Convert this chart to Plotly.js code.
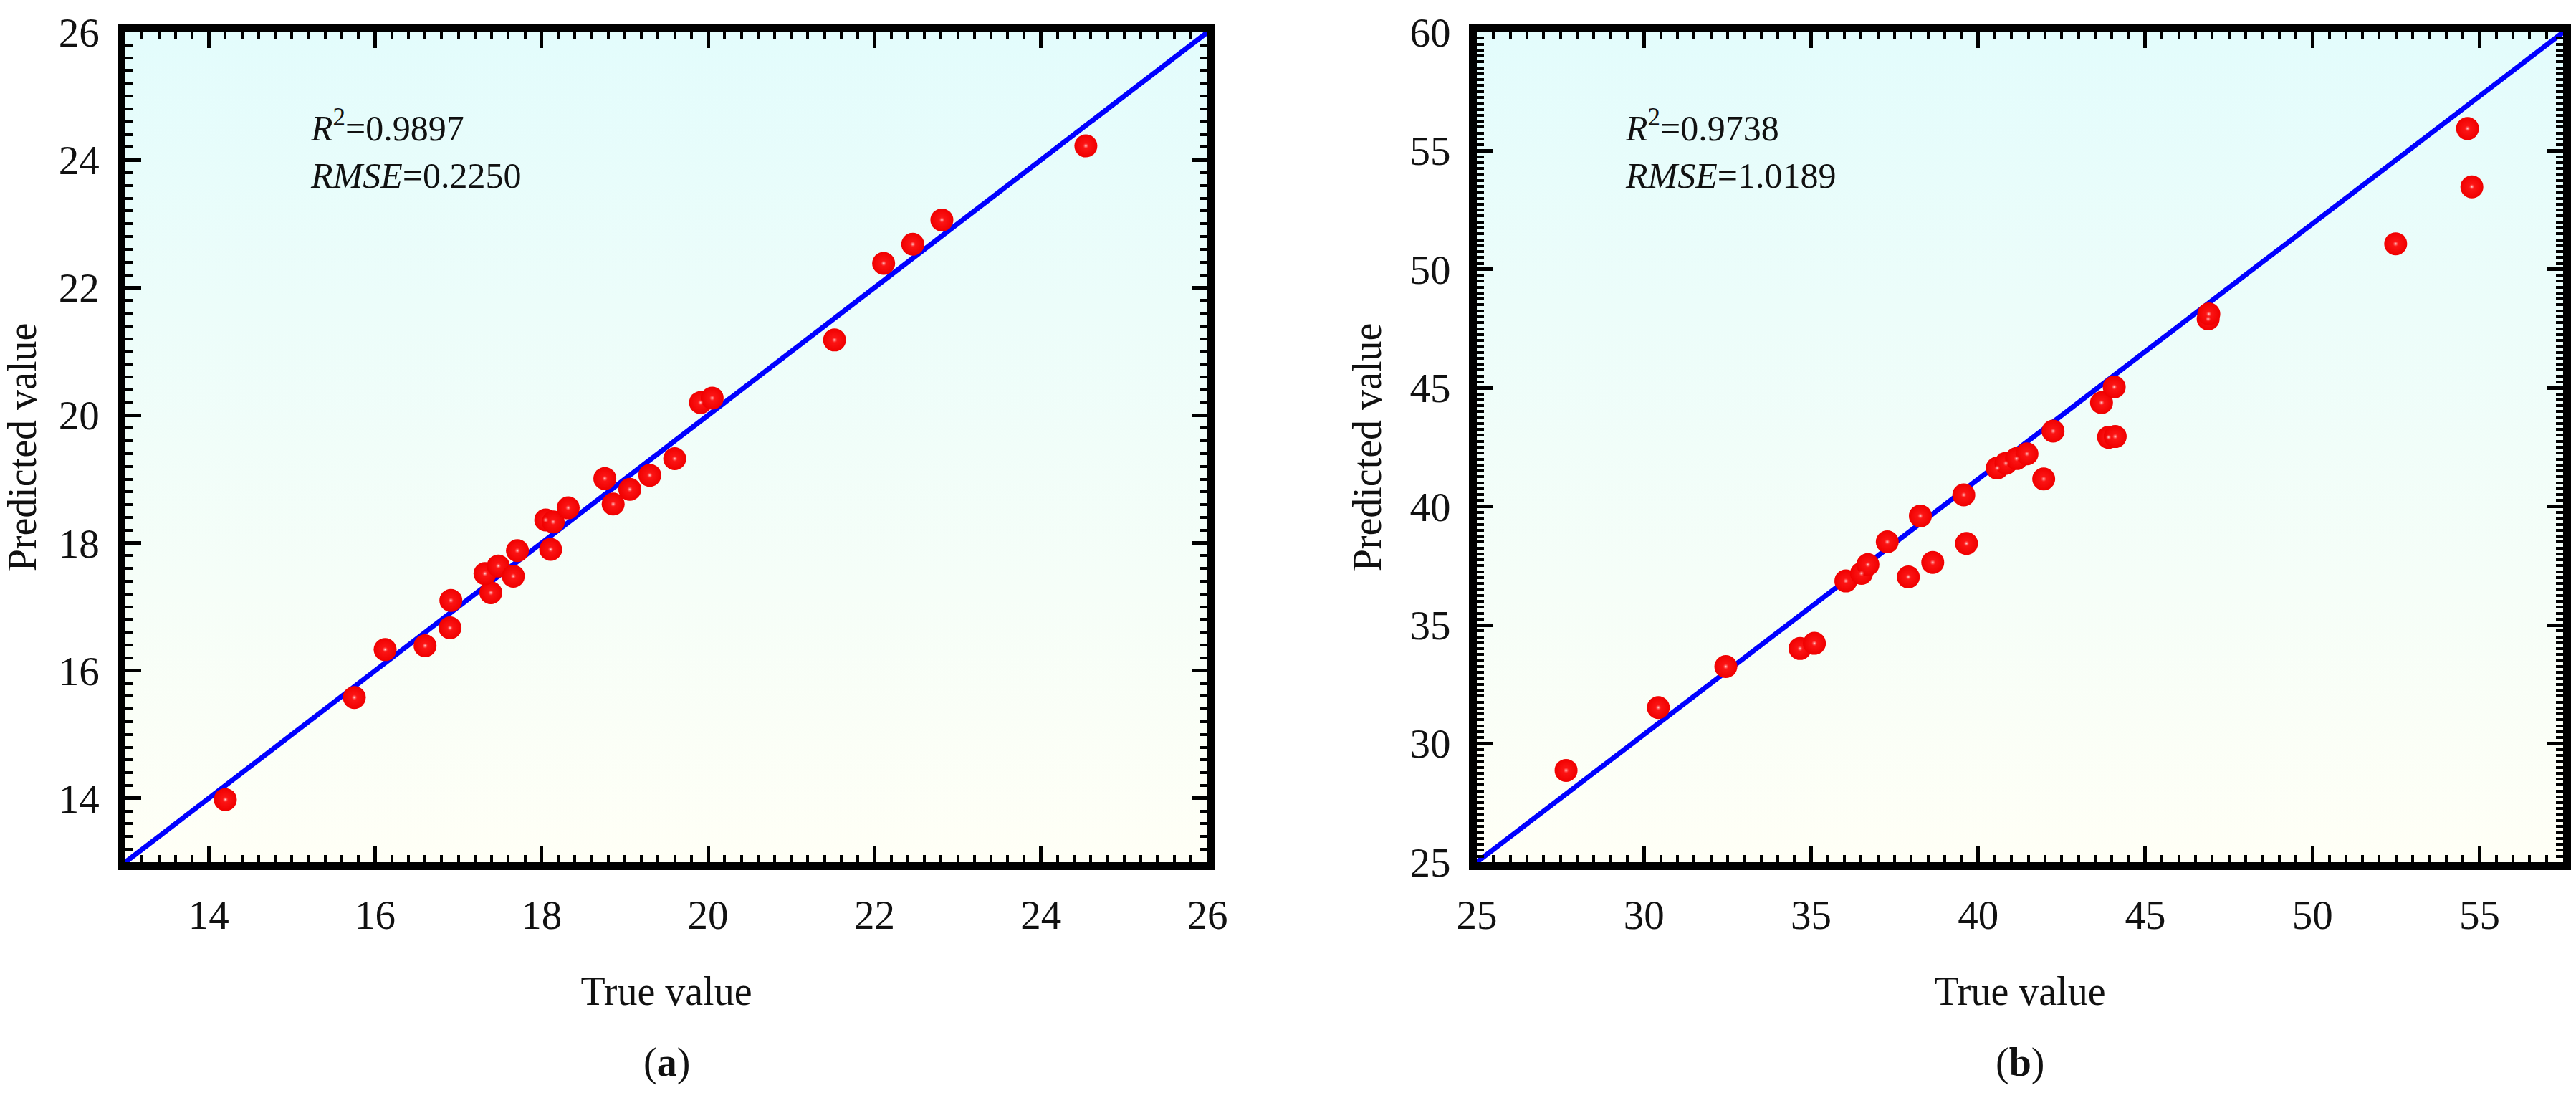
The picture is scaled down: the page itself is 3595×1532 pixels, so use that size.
<!DOCTYPE html>
<html>
<head>
<meta charset="utf-8">
<script src="https://cdn.plot.ly/plotly-3.0.1.min.js"></script>
<style>
  html, body { margin: 0; padding: 0; background: #fff; }
  #fig { width: 3595px; height: 1532px; }
</style>
</head>
<body>
<div id="fig"></div>
<script>
// panel (a): true vs predicted
var trueA = [14.20, 15.75, 16.12, 16.60, 16.90, 16.91, 17.39, 17.32, 17.48, 17.66,
             17.71, 18.11, 18.05, 18.14, 18.32, 18.86, 18.76, 19.06, 19.30, 19.60,
             19.91, 20.05, 21.52, 22.11, 22.46, 22.81, 24.54];
var predA = [13.98, 15.58, 16.33, 16.39, 16.67, 17.10, 17.22, 17.52, 17.64, 17.48,
             17.88, 17.90, 18.36, 18.33, 18.55, 18.61, 19.01, 18.84, 19.06, 19.32,
             20.20, 20.27, 21.18, 22.38, 22.68, 23.06, 24.22];
var fitA_x = [13, 26];
var fitA_y = [13, 26];
var statsA = {r2: '0.9897', rmse: '0.2250'};

// panel (b)
var trueB = [27.67, 30.43, 32.45, 34.67, 35.10, 36.04, 36.51, 36.70, 37.28, 37.91,
             38.27, 38.64, 39.57, 39.65, 40.57, 40.83, 41.15, 41.46, 41.96, 42.24,
             43.69, 44.07, 43.90, 44.10, 46.88, 46.90, 52.49, 54.64, 54.77];
var predB = [28.87, 31.52, 33.25, 34.01, 34.23, 36.86, 37.18, 37.55, 38.51, 37.03,
             39.60, 37.64, 40.49, 38.44, 41.62, 41.82, 42.02, 42.22, 41.16, 43.18,
             44.38, 45.04, 42.92, 42.95, 47.91, 48.12, 51.08, 55.94, 53.48];
var fitB_x = [25, 57.5];
var fitB_y = [25, 60];
var statsB = {r2: '0.9738', rmse: '1.0189'};

var FONT = 'Times New Roman, Liberation Serif, serif';

function bgTrace(xr, yr, xa, ya) {
  // soft vertical wash behind each panel
  return {
    x: [xr[0], xr[1], xr[1], xr[0], xr[0]],
    y: [yr[0], yr[0], yr[1], yr[1], yr[0]],
    xaxis: xa, yaxis: ya,
    type: 'scatter', mode: 'lines', fill: 'toself',
    line: {width: 0},
    fillgradient: {type: 'vertical',
                   colorscale: [[0, '#fffff6'], [1, '#e3fcfc']]},
    hoverinfo: 'skip', showlegend: false
  };
}

function fitTrace(x, y, xa, ya) {
  return {x: x, y: y, xaxis: xa, yaxis: ya, type: 'scatter', mode: 'lines',
          line: {color: '#0000ff', width: 7}, showlegend: false};
}

function ballTraces(x, y, xa, ya) {
  var base = {x: x, y: y, xaxis: xa, yaxis: ya, type: 'scatter', mode: 'markers',
              marker: {size: 32, color: '#f00000',
                       gradient: {type: 'radial', color: '#ff1a1a'},
                       line: {width: 0}},
              showlegend: false};
  var shine = {x: x, y: y, xaxis: xa, yaxis: ya, type: 'scatter', mode: 'markers',
               marker: {size: 8, color: 'rgba(255,80,80,0)',
                        gradient: {type: 'radial', color: 'rgba(255,255,255,0.85)'},
                        line: {width: 0}},
               hoverinfo: 'skip', showlegend: false};
  return [base, shine];
}

var rangeAx = [13, 26], rangeAy = [13, 26];
var rangeBx = [25, 57.5], rangeBy = [25, 60];

var data = [bgTrace(rangeAx, rangeAy, 'x', 'y'),
            bgTrace(rangeBx, rangeBy, 'x2', 'y2'),
            fitTrace(fitA_x, fitA_y, 'x', 'y'),
            fitTrace(fitB_x, fitB_y, 'x2', 'y2')]
  .concat(ballTraces(trueA, predA, 'x', 'y'))
  .concat(ballTraces(trueB, predB, 'x2', 'y2'));

function axis(range, dtick, minor, dom, titleText, standoff, anchor) {
  return {
    range: range, domain: dom, anchor: anchor,
    dtick: dtick, tick0: 0,
    showgrid: false, zeroline: false,
    showline: true, linecolor: '#000', linewidth: 11, mirror: 'allticks',
    ticks: 'inside', ticklen: 22, tickwidth: 5, tickcolor: '#000',
    minor: {dtick: minor, ticks: 'inside', ticklen: 10, tickwidth: 4, tickcolor: '#000'},
    tickfont: {family: FONT, size: 57, color: '#111'},
    ticklabelstandoff: 14,
    title: {text: titleText, font: {family: FONT, size: 56, color: '#111'}, standoff: standoff},
    fixedrange: true
  };
}

var domY = [0.2148, 0.9706];
var layout = {
  width: 3595, height: 1532,
  margin: {l: 0, r: 0, t: 0, b: 0},
  font: {family: FONT},
  paper_bgcolor: '#ffffff', plot_bgcolor: 'rgba(0,0,0,0)',
  showlegend: false,
  xaxis: axis(rangeAx, 2, 0.2, [0.0487, 0.4687], 'True value', 60, 'y'),
  yaxis: axis(rangeAy, 2, 0.2, domY, 'Predicted value', 26, 'x'),
  xaxis2: axis(rangeBx, 5, 0.5, [0.5733, 0.995], 'True value', 60, 'y2'),
  yaxis2: axis(rangeBy, 5, 0.25, domY, 'Predicted value', 26, 'x2'),
  annotations: [
    {xref: 'x', yref: 'y', x: 15.2, y: 24.54, xanchor: 'left', yanchor: 'middle', showarrow: false,
     text: '<i>R</i><sup>2</sup>=' + statsA.r2, font: {family: FONT, size: 50, color: '#111'}},
    {xref: 'x', yref: 'y', x: 15.2, y: 23.76, xanchor: 'left', yanchor: 'middle', showarrow: false,
     text: '<i>RMSE</i>=' + statsA.rmse, font: {family: FONT, size: 50, color: '#111'}},
    {xref: 'x2', yref: 'y2', x: 29.4, y: 56.07, xanchor: 'left', yanchor: 'middle', showarrow: false,
     text: '<i>R</i><sup>2</sup>=' + statsB.r2, font: {family: FONT, size: 50, color: '#111'}},
    {xref: 'x2', yref: 'y2', x: 29.4, y: 53.96, xanchor: 'left', yanchor: 'middle', showarrow: false,
     text: '<i>RMSE</i>=' + statsB.rmse, font: {family: FONT, size: 50, color: '#111'}},
    {xref: 'paper', yref: 'paper', x: 0.2587, y: 0.032, xanchor: 'center', yanchor: 'middle', showarrow: false,
     text: '(<b>a</b>)', font: {family: FONT, size: 56, color: '#111'}},
    {xref: 'paper', yref: 'paper', x: 0.7842, y: 0.032, xanchor: 'center', yanchor: 'middle', showarrow: false,
     text: '(<b>b</b>)', font: {family: FONT, size: 56, color: '#111'}}
  ]
};

Plotly.newPlot('fig', data, layout, {staticPlot: true, displayModeBar: false});
</script>
</body>
</html>
